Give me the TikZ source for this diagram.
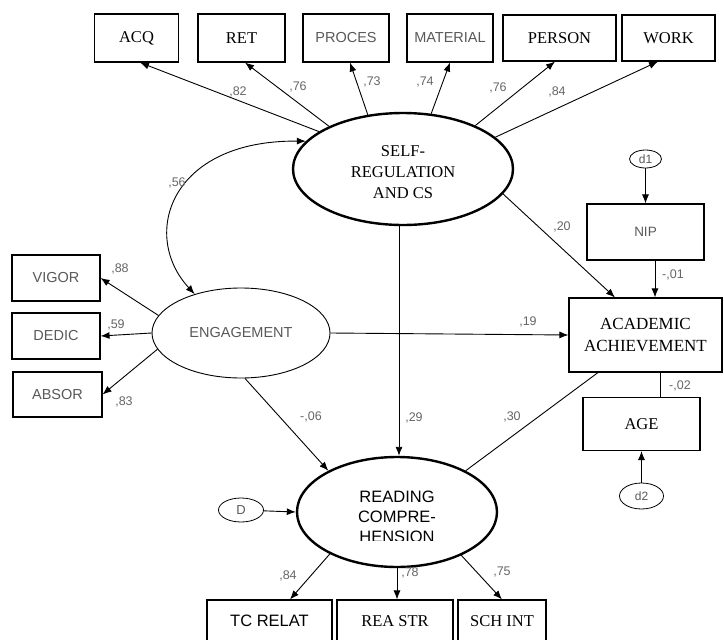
\documentclass[tikz,border=0pt]{standalone}
\usepackage{fontspec}
\setmainfont{Liberation Serif}
\setsansfont{Liberation Sans}
\usetikzlibrary{arrows.meta,shapes.geometric,calc}
\begin{document}
\begin{tikzpicture}[x=1pt,y=-1pt,
  box/.style={draw,line width=1.1pt,inner sep=0pt,font=\fontsize{16.5}{20}\selectfont},
  sbox/.style={box,font=\sffamily\fontsize{14.5}{17}\selectfont,text=black!65},
  kbox/.style={box,font=\sffamily\fontsize{16.5}{20}\selectfont},
  lat/.style={ellipse,draw,line width=2.4pt,inner sep=0pt},
  err/.style={ellipse,draw,line width=0.8pt,inner sep=0pt,font=\sffamily\fontsize{12}{14}\selectfont,text=black!65},
  arr/.style={line width=0.9pt,-{Latex[length=9pt,width=7pt]}},
  plain/.style={line width=0.9pt},
  lbl/.style={font=\sffamily\fontsize{12.5}{14}\selectfont,text=black!60,inner sep=1pt},
]
\useasboundingbox (0,0) rectangle (724,640);
\clip (0,0) rectangle (724,640);
\fill[white] (0,0) rectangle (724,640);

% top indicators
\node[box,minimum width=84,minimum height=48] (acq) at (136.5,38) {ACQ};
\node[box,minimum width=87,minimum height=48] (ret) at (241.5,38) {RET};
\node[sbox,minimum width=86,minimum height=48] (proc) at (346,38) {PROCES};
\node[sbox,minimum width=86,minimum height=48] (mat) at (450,38) {MATERIAL};
\node[box,minimum width=113,minimum height=46] (per) at (559.5,38) {PERSON};
\node[box,minimum width=93,minimum height=46] (work) at (668.5,38) {WORK};

% latent SELF-REGULATION
\node[lat,minimum width=220,minimum height=112] (S) at (403,169) {};
\node[align=center,font=\fontsize{16.5}{21}\selectfont,inner sep=0pt] at (403,172) {SELF-\\REGULATION\\AND CS};

% engagement
\node[ellipse,draw,line width=0.9pt,inner sep=0pt,minimum width=178,minimum height=90,
      font=\sffamily\fontsize{14.5}{17}\selectfont,text=black!65] (E) at (241,333) {ENGAGEMENT};
\node[sbox,minimum width=88,minimum height=46] (vig) at (56,278) {VIGOR};
\node[sbox,minimum width=88,minimum height=46] (ded) at (56,336) {DEDIC};
\node[sbox,minimum width=89,minimum height=45] (abs) at (57.5,394.5) {ABSOR};

% right side
\node[err,minimum width=32,minimum height=18] (d1) at (645.5,159) {d1};
\node[sbox,minimum width=117,minimum height=56,font=\sffamily\fontsize{13.5}{16}\selectfont] (nip) at (645.5,232) {NIP};
\node[box,minimum width=153,minimum height=74,align=center,
      font=\fontsize{17}{22}\selectfont] (AA) at (645.5,335) {ACADEMIC\\ACHIEVEMENT};
\node[box,minimum width=117,minimum height=53] (age) at (641.5,424) {AGE};
\node[err,minimum width=44,minimum height=26] (d2) at (641.5,496) {d2};

% reading comprehension
\node[lat,minimum width=200,minimum height=110] (R) at (397,512) {};
\begin{scope}
  \clip (297,455) rectangle (497,540.5);
  \node[align=center,font=\sffamily\fontsize{16.5}{20}\selectfont,inner sep=0pt] at (397,517)
    {READING\\COMPRE-\\HENSION};
\end{scope}
\node[err,minimum width=45,minimum height=24,font=\sffamily\fontsize{13}{15}\selectfont] (D) at (241,510) {D};

\node[kbox,minimum width=125,minimum height=50] (tc) at (269.5,625) {};
\node[box,minimum width=116,minimum height=50] (rea) at (395,625) {};
\node[box,minimum width=88,minimum height=50] (sch) at (502,625) {};
\node[font=\sffamily\fontsize{16.5}{20}\selectfont] at (269.5,621) {TC RELAT};
\node[font=\fontsize{16.5}{20}\selectfont] at (395,621) {REA STR};
\node[font=\fontsize{16.5}{20}\selectfont] at (502,621) {SCH INT};

% loadings of SELF-REGULATION
\draw[arr] (S.156) -- ([xshift=3.5]acq.south);
\draw[arr] (S.150) -- ([xshift=3.5]ret.south);
\draw[arr] (S.123) -- ([xshift=4]proc.south);
\draw[arr] (S.63) -- (mat.south);
\draw[arr] (S.31) -- ([xshift=-4.5]per.south);
\draw[arr] (S.19) -- ([xshift=-10.5]work.south);
\node[lbl] at (238,92) {,82};
\node[lbl] at (298,87) {,76};
\node[lbl] at (372,82) {,73};
\node[lbl] at (425,82) {,74};
\node[lbl] at (498,88) {,76};
\node[lbl] at (557,92) {,84};

% covariance
\draw[line width=0.9pt,{Latex[length=9pt,width=7pt]}-{Latex[length=9pt,width=7pt]}]
  (E.140) .. controls (140,235) and (170,140) .. (S.164);
\node[lbl] at (177,183) {,56};

% loadings of ENGAGEMENT
\draw[arr] (E.168) -- (vig.east);
\draw[arr] (E.west) -- (ded.east);
\draw[arr] (E.191) -- (abs.east);
\node[lbl] at (120,269) {,88};
\node[lbl] at (116,325) {,59};
\node[lbl] at (124,402) {,83};

% structural paths
\draw[arr] (S.-14) -- ([xshift=-30.5]AA.north);
\node[lbl] at (562,227) {,20};
\draw[arr] (d1) -- (nip.north);
\draw[arr] ([xshift=9.5]nip.south) -- ([xshift=9.5]AA.north);
\node[lbl] at (673,275) {-,01};
\draw[arr] (E.east) -- (AA.west);
\node[lbl] at (528,322) {,19};
\draw[arr] ([xshift=-4]S.south) -- ([xshift=2]R.north);
\node[lbl] at (414,418) {,29};
\draw[plain] (R.31) -- ([xshift=-47.5]AA.south);
\node[lbl] at (512,417) {,30};
\draw[arr] (E.-85) -- (R.149);
\node[lbl] at (311,417) {-,06};
\draw[arr] (D) -- (R.west);
\draw[plain] ([xshift=14.5]AA.south) -- ([xshift=18.5]age.north);
\node[lbl] at (680,386) {-,02};
\draw[arr] (d2) -- (age.south);

% loadings of READING
\draw[arr] (R.-148) -- ([xshift=20.5]tc.north);
\draw[arr] (R.south) -- ([xshift=2]rea.north);
\draw[arr] (R.-34) -- (sch.north);
\node[lbl] at (288,576) {,84};
\node[lbl] at (410,573) {,78};
\node[lbl] at (502,572) {,75};
\end{tikzpicture}
\end{document}
